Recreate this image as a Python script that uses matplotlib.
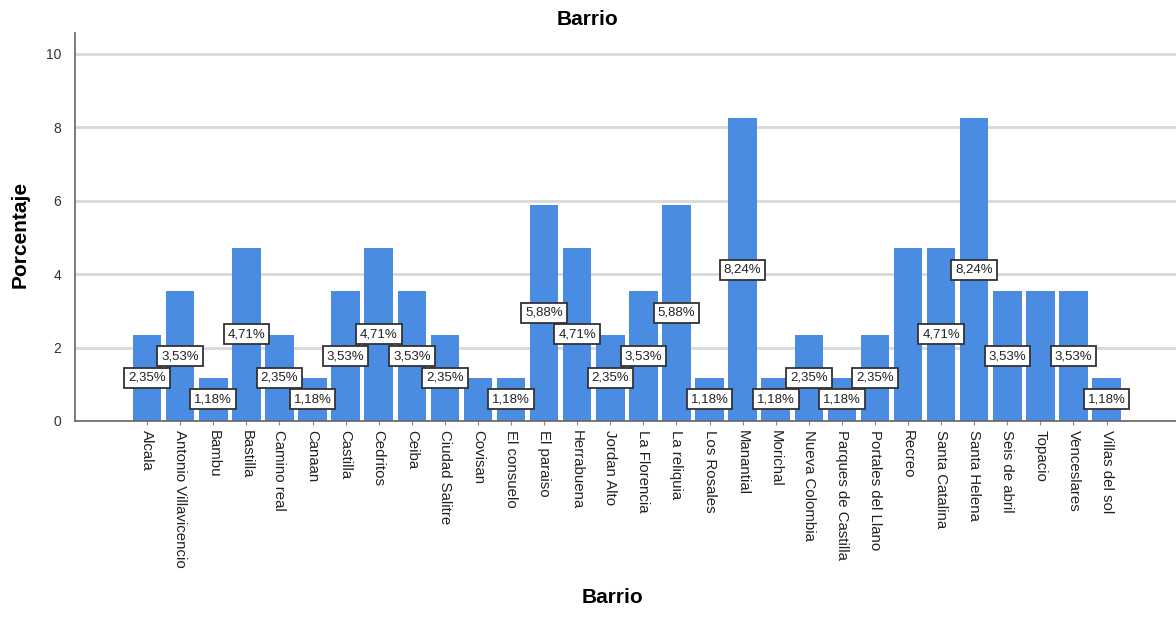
import matplotlib
matplotlib.use("Agg")
import matplotlib.pyplot as plt
import numpy as np

plt.rcParams['font.family'] = ['Liberation Sans', 'DejaVu Sans']

categories = ["Alcala", "Antonio Villavicencio", "Bambu", "Bastilla", "Camino real",
              "Canaan", "Castilla", "Cedritos", "Ceiba", "Ciudad Salitre", "Covisan",
              "El consuelo", "El paraiso", "Herrabuena", "Jordan Alto", "La Florencia",
              "La reliquia", "Los Rosales", "Manantial", "Morichal", "Nueva Colombia",
              "Parques de Castilla", "Portales del Llano", "Recreo", "Santa Catalina",
              "Santa Helena", "Seis de abril", "Topacio", "Venceslares", "Villas del sol"]
percentages = [2.35, 3.53, 1.18, 4.71, 2.35, 1.18, 3.53, 4.71, 3.53, 2.35, 1.18,
               1.18, 5.88, 4.71, 2.35, 3.53, 5.88, 1.18, 8.24, 1.18, 2.35,
               1.18, 2.35, 4.71, 4.71, 8.24, 3.53, 3.53, 3.53, 1.18]
hidden_labels = ["Covisan", "Recreo", "Topacio"]
y_ticks = [0, 2, 4, 6, 8, 10]

fig = plt.figure(figsize=(11.76, 6.18), dpi=100)
ax = fig.add_axes([0.0638, 0.3188, 0.9362, 0.6278])

x = np.arange(len(categories))
ax.bar(x, percentages, width=0.86, color="#4a8ce2", zorder=2)

for xi, cat, v in zip(x, categories, percentages):
    if cat in hidden_labels:
        continue
    ax.text(xi, v / 2, f"{v:.2f}".replace(".", ",") + "%", ha="center", va="center",
            fontsize=9.5, color="#222222", zorder=4,
            bbox=dict(boxstyle="square,pad=0.3", fc="white", ec="#333333", lw=1.3))

ax.set_xlim(-2.18, 31.1)
ax.set_ylim(0, 10.56)
ax.set_yticks(y_ticks)
ax.set_yticklabels([str(t) for t in y_ticks], fontsize=10, color="#333333")
ax.set_xticks(x)
ax.set_xticklabels(categories, rotation=-90, fontsize=10.8, color="#222222")
ax.tick_params(axis="x", length=3, color="#888888")
ax.tick_params(axis="y", length=0, pad=10)

ax.grid(axis="y", color="#d8d8d8", linewidth=2, zorder=0)
ax.set_axisbelow(True)
for s in ["top", "right"]:
    ax.spines[s].set_visible(False)
for s in ["left", "bottom"]:
    ax.spines[s].set_color("#666666")
    ax.spines[s].set_linewidth(1.2)

fig.text(0.017, 0.62, "Porcentaje", rotation=90, ha="center", va="center",
         fontsize=15, fontweight="bold")
fig.text(0.521, 0.018, "Barrio", ha="center", va="bottom", fontsize=15, fontweight="bold")
fig.text(0.5, 0.968, "Barrio", ha="center", va="center", fontsize=15, fontweight="bold")

fig.savefig("out.png", dpi=100)
